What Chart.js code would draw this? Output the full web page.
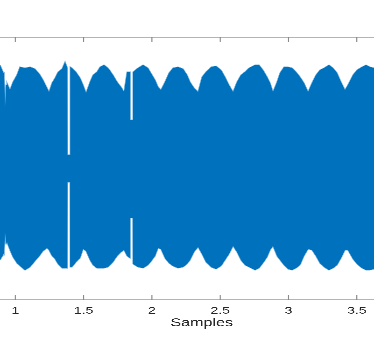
<!DOCTYPE html>
<html>
<head>
<meta charset="utf-8">
<script src="https://cdn.jsdelivr.net/npm/chart.js@4"></script>
<style>
  html, body { margin: 0; padding: 0; background: #fff; overflow: hidden; width: 374px; height: 349px; }
  /* the original figure is stretched sideways and cropped on the right,
     so the canvas is stretched too and runs past the window edge */
  #wrap { width: 288px; height: 349px; transform: scaleX(1.4007); transform-origin: 0 0; }
</style>
</head>
<body>
<div id="wrap"><canvas id="myChart" width="288" height="349"></canvas></div>
<script>
// envelope of the signal
const sampleX = [0.888, 0.910, 0.918, 0.925, 0.932, 0.939, 0.961, 0.983, 1.012, 1.034, 1.071, 1.108, 1.144, 1.181, 1.203, 1.232, 1.247, 1.269, 1.291, 1.313, 1.342, 1.364, 1.381, 1.382, 1.401, 1.402, 1.415, 1.444, 1.474, 1.496, 1.518, 1.547, 1.569, 1.598, 1.620, 1.649, 1.679, 1.715, 1.745, 1.774, 1.796, 1.818, 1.840, 1.841, 1.861, 1.862, 1.898, 1.935, 1.971, 2.001, 2.023, 2.045, 2.066, 2.096, 2.125, 2.154, 2.191, 2.228, 2.257, 2.279, 2.308, 2.338, 2.367, 2.396, 2.433, 2.469, 2.506, 2.535, 2.564, 2.594, 2.623, 2.652, 2.681, 2.711, 2.755, 2.784, 2.813, 2.843, 2.865, 2.886, 2.916, 2.938, 2.967, 2.996, 3.026, 3.055, 3.084, 3.113, 3.143, 3.172, 3.201, 3.230, 3.260, 3.296, 3.326, 3.355, 3.384, 3.413, 3.435, 3.472, 3.501, 3.538, 3.567, 3.596, 3.626];
const upperY = [0.787, 0.734, 0.72, 0.460, 0.635, 0.650, 0.597, 0.658, 0.711, 0.772, 0.764, 0.772, 0.757, 0.711, 0.673, 0.612, 0.582, 0.650, 0.688, 0.734, 0.757, 0.810, 0.764, 0.103, 0.103, 0.772, 0.764, 0.734, 0.688, 0.635, 0.574, 0.658, 0.711, 0.734, 0.772, 0.787, 0.764, 0.711, 0.658, 0.620, 0.582, 0.734, 0.734, 0.369, 0.369, 0.734, 0.764, 0.787, 0.764, 0.711, 0.673, 0.620, 0.597, 0.658, 0.726, 0.764, 0.772, 0.757, 0.711, 0.658, 0.612, 0.582, 0.696, 0.734, 0.772, 0.779, 0.749, 0.696, 0.635, 0.582, 0.658, 0.711, 0.734, 0.764, 0.787, 0.787, 0.749, 0.696, 0.650, 0.582, 0.658, 0.726, 0.772, 0.772, 0.764, 0.734, 0.696, 0.650, 0.582, 0.650, 0.711, 0.749, 0.764, 0.787, 0.764, 0.726, 0.658, 0.597, 0.635, 0.711, 0.749, 0.772, 0.787, 0.772, 0.764];
const lowerY = [-0.696, -0.658, -0.64, -0.483, -0.574, -0.559, -0.620, -0.673, -0.719, -0.741, -0.772, -0.749, -0.703, -0.658, -0.627, -0.605, -0.620, -0.665, -0.688, -0.726, -0.757, -0.757, -0.757, -0.103, -0.103, -0.749, -0.749, -0.711, -0.681, -0.612, -0.627, -0.696, -0.734, -0.757, -0.757, -0.757, -0.749, -0.711, -0.665, -0.635, -0.620, -0.665, -0.681, -0.376, -0.376, -0.726, -0.749, -0.757, -0.734, -0.696, -0.665, -0.605, -0.612, -0.681, -0.719, -0.741, -0.757, -0.749, -0.726, -0.696, -0.635, -0.597, -0.650, -0.711, -0.749, -0.764, -0.741, -0.696, -0.650, -0.589, -0.635, -0.696, -0.734, -0.749, -0.772, -0.757, -0.719, -0.673, -0.620, -0.589, -0.665, -0.696, -0.734, -0.764, -0.772, -0.757, -0.734, -0.665, -0.612, -0.620, -0.665, -0.719, -0.749, -0.772, -0.757, -0.734, -0.681, -0.620, -0.620, -0.688, -0.726, -0.757, -0.772, -0.772, -0.764];
const xTicks = [1, 1.5, 2, 2.5, 3, 3.5];
const xLabel = 'Samples';

// the axes run on past the right edge of the cropped figure
const xMin = 0.888, xMax = 3.841;

// top box line and inward tick marks like matlab axes
const axesFrame = {
  id: 'axesFrame',
  afterDraw(chart) {
    const {ctx, chartArea: {left, right, top, bottom}, scales: {x}} = chart;
    ctx.save();
    ctx.strokeStyle = '#b4b4b4';
    ctx.lineWidth = 1;
    ctx.beginPath();
    ctx.moveTo(left, top + 0.5);
    ctx.lineTo(right, top + 0.5);
    ctx.moveTo(left, bottom - 0.5);
    ctx.lineTo(right, bottom - 0.5);
    ctx.stroke();
    ctx.strokeStyle = '#8a8a8a';
    ctx.lineWidth = 0.75;
    ctx.beginPath();
    xTicks.forEach(v => {
      const px = x.getPixelForValue(v);
      ctx.moveTo(px, top);
      ctx.lineTo(px, top + 5);
      ctx.moveTo(px, bottom);
      ctx.lineTo(px, bottom - 5);
    });
    ctx.stroke();
    ctx.restore();
  }
};

const ctx = document.getElementById('myChart');
new Chart(ctx, {
  type: 'line',
  data: {
    datasets: [{
      data: sampleX.map((v, i) => ({x: v, y: upperY[i]})),
      borderColor: 'rgba(0, 114, 189, 0.5)',
      borderWidth: 1,
      backgroundColor: '#0072BD',
      fill: '+1',
      pointRadius: 0,
      tension: 0,
    },
    {
      data: sampleX.map((v, i) => ({x: v, y: lowerY[i]})),
      borderColor: 'rgba(0, 114, 189, 0.5)',
      borderWidth: 1,
      fill: false,
      pointRadius: 0,
      tension: 0,
    }]
  },
  options: {
    responsive: false,
    animation: false,
    devicePixelRatio: 3,
    layout: {
      padding: {top: 37, left: 0, right: 0, bottom: 0}
    },
    scales: {
      x: {
        type: 'linear',
        min: xMin,
        max: xMax,
        afterBuildTicks: scale => {
          scale.ticks = xTicks.map(v => ({value: v}));
        },
        afterFit: scale => {
          scale.height = 49;
        },
        grid: {display: false, drawTicks: false},
        border: {display: false},
        ticks: {
          padding: 5,
          color: '#262626',
          font: {family: 'Liberation Sans', size: 10},
          callback: v => String(v),
        },
        title: {
          display: true,
          text: xLabel,
          color: '#262626',
          padding: {top: 0, bottom: 19},
          font: {family: 'Liberation Sans', size: 11.5},
        },
      },
      y: {
        display: false,
        min: -1,
        max: 1,
      },
    },
    plugins: {
      legend: {display: false},
      tooltip: {enabled: false},
    }
  },
  plugins: [axesFrame]
});
</script>
</body>
</html>
